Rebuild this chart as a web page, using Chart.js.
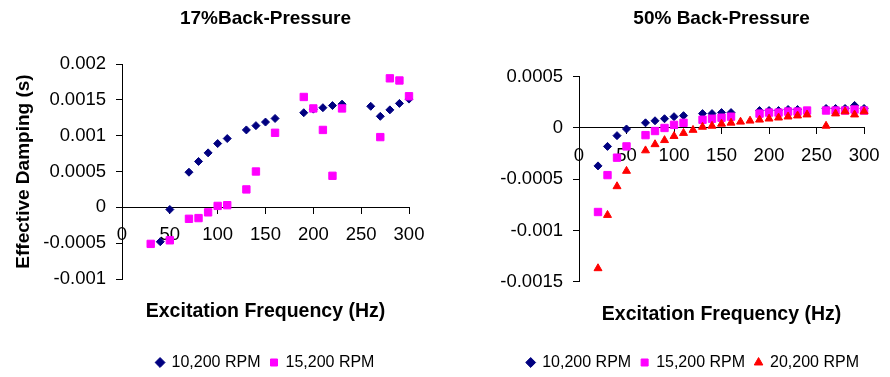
<!DOCTYPE html>
<html>
<head>
<meta charset="utf-8">
<script src="https://cdn.jsdelivr.net/npm/chart.js@4/dist/chart.umd.min.js"></script>
<style>
  html, body { margin: 0; padding: 0; background: #fff; }
  #wrap { position: relative; width: 890px; height: 377px; overflow: hidden; }
  .panel { position: absolute; top: 0; width: 445px; height: 377px; }
  #left { left: 0; }
  #right { left: 445px; }
</style>
</head>
<body>
<div id="wrap">
  <div class="panel" id="left"><canvas id="chart17"></canvas></div>
  <div class="panel" id="right"><canvas id="chart50"></canvas></div>
</div>
<script>
const FREQ_TICKS = [0, 50, 100, 150, 200, 250, 300];
const Y_TICKS_17 = [-0.001, -0.0005, 0, 0.0005, 0.001, 0.0015, 0.002];
const Y_TICKS_50 = [-0.0015, -0.001, -0.0005, 0, 0.0005];
const SERIES_NAMES = ["10,200 RPM", "15,200 RPM", "20,200 RPM"];

// 17% back-pressure
const bp17Freq10 = [40, 50, 70, 80, 90, 100, 110, 130, 140, 150, 160, 190, 200, 210, 220, 230, 260, 270, 280, 290, 300];
const bp17Damp10 = [-0.00048, -0.00003, 0.00049, 0.00064, 0.00076, 0.00089, 0.00096, 0.00108, 0.00114, 0.00119, 0.00124,
  0.00132, 0.00137, 0.00139, 0.00142, 0.00144, 0.00141, 0.00127, 0.00136, 0.00145, 0.00151];
const bp17Freq15 = [30, 50, 70, 80, 90, 100, 110, 130, 140, 160, 190, 200, 210, 220, 230, 270, 280, 290, 300];
const bp17Damp15 = [-0.00051, -0.00046, -0.00016, -0.00015, -0.00007, 0.00002, 0.00003, 0.00025, 0.0005, 0.00104,
  0.00154, 0.00138, 0.00108, 0.00044, 0.00138, 0.00098, 0.0018, 0.00177, 0.00155];

// 50% back-pressure
const bp50Freq10 = [20, 30, 40, 50, 70, 80, 90, 100, 110, 130, 140, 150, 160, 190, 200, 210, 220, 230, 260, 270, 280, 290, 300];
const bp50Damp10 = [-0.00037, -0.00018, -0.000075, -0.00001, 0.00005, 0.00007, 0.00009, 0.00011, 0.00012, 0.00014, 0.00014,
  0.00015, 0.00015, 0.00017, 0.00017, 0.00017, 0.00018, 0.00018, 0.00019, 0.00019, 0.00019, 0.00022, 0.00019];
const bp50Freq15 = [20, 30, 40, 50, 70, 80, 90, 100, 110, 130, 140, 150, 160, 190, 200, 210, 220, 230, 240, 260, 270, 280, 290, 300];
const bp50Damp15 = [-0.00082, -0.00046, -0.00029, -0.00018, -0.00007, -0.00003, 0, 0.00003, 0.00005, 0.00008, 0.00009,
  0.0001, 0.00011, 0.00014, 0.00015, 0.00015, 0.00016, 0.00016, 0.00017, 0.00017, 0.00017, 0.00017, 0.00018, 0.00017];
const bp50Freq20 = [20, 30, 40, 50, 70, 80, 90, 100, 110, 120, 130, 140, 150, 160, 170, 180, 190, 200, 210, 220, 230, 240,
  260, 270, 280, 290, 300];
const bp50Damp20 = [-0.00137, -0.00085, -0.00057, -0.00042, -0.00022, -0.00016, -0.00012, -0.00008, -0.00005, -0.00002,
  0.00001, 0.00002, 0.00004, 0.00005, 0.00006, 0.00007, 0.00008, 0.00009, 0.0001, 0.00011, 0.00012, 0.00013,
  0.00002, 0.00014, 0.00016, 0.00013, 0.00016];

const MARKERS = [
  { style: "rectRot", radius: 4, color: "#000080" },
  { style: "rect", radius: 5.2, color: "#FF00FF" },
  { style: "triangle", radius: 4.6, color: "#FF0000" },
];

Chart.defaults.font.family = "'Liberation Sans', Arial, sans-serif";
Chart.defaults.color = "#000";

function toPoints(freq, damp) {
  return freq.map((f, i) => ({ x: f, y: damp[i] }));
}

function buildDatasets(series) {
  return series.map((pts, i) => ({
    label: SERIES_NAMES[i],
    data: pts,
    xAxisID: "x",
    yAxisID: "y",
    pointStyle: MARKERS[i].style,
    pointRadius: MARKERS[i].radius,
    pointHoverRadius: MARKERS[i].radius,
    backgroundColor: MARKERS[i].color,
    borderColor: MARKERS[i].color,
    borderWidth: 1,
    clip: false,
    // later series sit on top
    order: 10 - i,
  }));
}

function panel(canvasId, p) {
  return new Chart(document.getElementById(canvasId), {
    type: "scatter",
    data: { datasets: buildDatasets(p.series) },
    options: {
      responsive: true,
      maintainAspectRatio: false,
      animation: false,
      events: [],
      layout: { padding: { top: 0, left: 0, bottom: 0, right: p.padRight } },
      scales: {
        x: {
          type: "linear",
          position: { y: 0 },
          min: 0,
          max: 300,
          afterBuildTicks: (s) => { s.ticks = FREQ_TICKS.map((v) => ({ value: v })); },
          grid: { drawOnChartArea: false, tickLength: 6, color: "#000" },
          border: { display: true, color: "#000", width: 1 },
          ticks: { padding: 10.5, maxRotation: 0, autoSkip: false, font: { size: 18.5 } },
        },
        xTitle: {
          type: "linear",
          axis: "x",
          position: "bottom",
          min: 0,
          max: 300,
          grid: { display: false },
          border: { display: false },
          ticks: { display: false },
          title: {
            display: true,
            text: "Excitation Frequency (Hz)",
            font: { size: 19.5, weight: "bold" },
            padding: { top: 0, bottom: p.xTitleGap },
          },
          afterFit: (s) => { s.height = p.xBand; },
        },
        y: {
          type: "linear",
          position: "left",
          min: p.yTicks[0],
          max: p.yTicks[p.yTicks.length - 1],
          afterBuildTicks: (s) => { s.ticks = p.yTicks.map((v) => ({ value: v })); },
          grid: { drawOnChartArea: false, tickLength: 6, color: "#000" },
          border: { display: true, color: "#000", width: 1 },
          ticks: { padding: p.yPad, font: { size: 18.5 }, callback: (v) => String(v) },
          title: {
            display: !!p.yTitle,
            text: p.yTitle || "",
            font: { size: 19, weight: "bold" },
            padding: { top: 12.6, bottom: 0 },
          },
          afterFit: (s) => { s.width = p.yBand; },
        },
      },
      plugins: {
        title: {
          display: true,
          text: p.title,
          fullSize: false,
          font: { size: 19, weight: "bold" },
          padding: { top: 7.3, bottom: p.titleGap },
        },
        legend: {
          position: "bottom",
          fullSize: p.legendFull,
          align: p.legendAlign,
          maxHeight: 32.5,
          labels: {
            usePointStyle: true,
            boxWidth: 7,
            boxHeight: 7,
            padding: 10,
            font: { size: 16 },
            sort: (a, b) => a.datasetIndex - b.datasetIndex,
          },
        },
        tooltip: { enabled: false },
      },
    },
  });
}

panel("chart17", {
  title: "17%Back-Pressure",
  yTitle: "Effective Damping (s)",
  yTicks: Y_TICKS_17,
  series: [toPoints(bp17Freq10, bp17Damp10), toPoints(bp17Freq15, bp17Damp15)],
  padRight: 36,
  yBand: 122,
  yPad: 10,
  titleGap: 33.9,
  xBand: 65.5,
  xTitleGap: 21.3,
  legendFull: false,
  legendAlign: "center",
});

panel("chart50", {
  title: "50% Back-Pressure",
  yTitle: null,
  yTicks: Y_TICKS_50,
  series: [toPoints(bp50Freq10, bp50Damp10), toPoints(bp50Freq15, bp50Damp15), toPoints(bp50Freq20, bp50Damp20)],
  padRight: 21,
  yBand: 134,
  yPad: 10,
  titleGap: 46.6,
  xBand: 62.8,
  xTitleGap: 18.6,
  legendFull: true,
  legendAlign: "end",
});
</script>
</body>
</html>
